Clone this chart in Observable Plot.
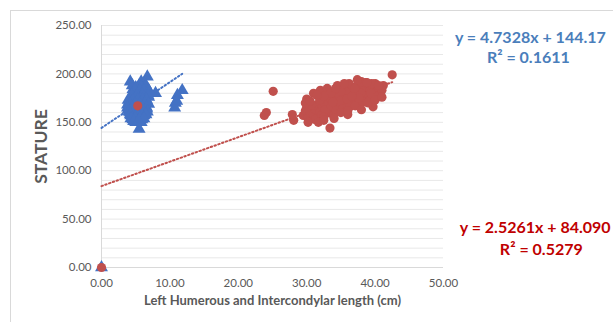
<!DOCTYPE html>
<html>
<head>
<meta charset="utf-8">
<script src="https://cdn.jsdelivr.net/npm/d3@7"></script>
<script src="https://cdn.jsdelivr.net/npm/@observablehq/plot@0.6"></script>
<style>
  body { margin: 0; background: #fff; }
  #wrap { position: relative; width: 613px; height: 322px; overflow: hidden; font-family: Lato, "Open Sans", sans-serif; }
  #frame { position: absolute; left: 10px; top: 10px; width: 700px; height: 400px; border-left: 1px solid #d9d9d9; border-top: 1px solid #d9d9d9; }
  #chart { position: absolute; left: 0; top: 0; }
</style>
</head>
<body>
<div id="wrap"><div id="frame"></div><div id="chart"></div></div>
<script>
// Series 1 (blue triangles)
const blueX = [6.7,4.2,5.8,6.2,6.5,5.5,4.5,4.6,5.2,6.0,6.8,5.5,6.3,7.9,4.8,5.9,6.6,4.3,5.0,5.7,6.4,6.9,4.1,4.7,5.4,6.1,6.7,5.0,3.8,4.4,5.1,5.8,6.5,3.9,4.6,5.3,6.0,6.6,4.2,5.6,4.3,4.9,5.5,6.2,4.6,5.2,5.9,5.0,5.8,4.8,6.4,5.5,
  5.0,5.8,6.4,4.9,5.6,6.2,6.9,4.4,5.2,6.0,6.8,3.9,4.6,5.3,6.0,6.6,4.2,4.9,5.6,6.3,6.9,3.8,4.5,5.2,5.9,6.6,4.0,4.7,5.4,6.1,6.7,4.2,5.2,5.9,6.5,4.3,5.0,5.6,6.2,4.7,5.4,
  11.8,11.1,10.8,10.7,11.0,0];
const blueY = [197,192,192,190,188,188,188,184,185,185,184,182,181,180,180,179,178,176,177,175,174,176,172,171,172,171,170,174,168,166,167,168,166,163,162,163,162,164,160,160,157,158,156,157,153,152,153,150,150,155,160,143,
  186,186,186,183,183,183,183,178,178,178,178,173,173,173,173,173,169,169,169,169,169,165,165,165,165,165,161,161,161,161,161,158,158,158,158,154,154,154,154,151,151,
  183,178,170,165,172,0];
// Series 2 (red circles)
const redX = [29.5,29.8,30.2,30.5,30.8,31.0,31.3,31.5,31.8,32.0,32.3,32.5,32.8,33.0,33.2,33.5,33.7,34.0,34.2,34.5,34.7,35.0,35.2,35.5,35.7,36.0,36.2,36.5,36.7,37.0,37.2,37.5,37.7,38.0,38.3,38.5,38.7,39.0,39.3,39.6,39.8,40.2,40.5,40.8,41.2,
  30.0,30.7,31.2,31.9,32.2,32.7,33.1,33.6,33.9,34.3,34.6,34.9,35.3,35.8,35.9,36.3,36.8,37.1,37.3,37.9,38.2,38.6,39.1,39.4,40.0,40.4,41.0,37.6,36.6,33.8,
  30.0,31.0,32.0,33.0,34.5,36.2,38.0,39.5,40.5,36.0,38.0,39.7,34.0,32.5,37.0,35.0,33.5,32.5,39.0,40.0,41.0,
  37.4,35.5,38.8,34.2,29.8,31.5,30.5,31.7,30.2,32.5,35.0,36.0,
  42.5,33.4,28.1,27.9,25.1,24.1,23.8,5.3,0];
const redY = [157,162,155,160,165,158,163,168,156,161,166,171,159,164,169,174,160,166,171,176,163,168,173,178,165,170,175,180,168,173,178,183,170,176,181,186,173,178,183,188,176,181,185,179,188,
  165,168,153,173,157,163,176,167,157,162,180,172,164,183,174,166,186,167,187,180,171,191,172,180,190,177,183,175,177,171,
  174,180,183,185,188,190,192,190,188,158,163,166,154,155,185,182,180,177,170,173,176,
  194,190,191,185,170,178,172,150,150,152,160,162,
  199,144,152,158,182,160,157,167,0];
// Excel linear trend lines
const blueFit = {slope: 4.7328, intercept: 144.17, xMax: 11.8};
const redFit = {slope: 2.5261, intercept: 84.09, xMax: 42.5};
const blueLabels = ["y = 4.7328x + 144.17", "R² = 0.1611"];
const redLabels = ["y = 2.5261x + 84.090", "R² = 0.5279"];
const yTicks = [0, 50, 100, 150, 200, 250];
const xTicks = [0, 10, 20, 30, 40, 50];

const blue = blueX.map((x, i) => ({x, y: blueY[i]}));
const red = redX.map((x, i) => ({x, y: redY[i]}));
const line = f => [0, f.xMax].map(x => ({x, y: f.slope * x + f.intercept}));

const blueCol = "#4472C4", redCol = "#C0504D";
const eqStyle = {fontSize: 16, fontWeight: "bold"};
const chart = Plot.plot({
  width: 613, height: 322,
  marginLeft: 101, marginRight: 170, marginTop: 25, marginBottom: 55,
  style: {fontFamily: "Lato, 'Open Sans', sans-serif", background: "transparent"},
  x: {domain: [0, 50]},
  y: {domain: [0, 250]},
  marks: [
    Plot.gridY(d3.range(0, 251, 10), {stroke: "#e8e8e8", strokeOpacity: 1}),
    Plot.ruleX([0], {stroke: "#d9d9d9"}),
    Plot.ruleY([0], {stroke: "#d9d9d9"}),
    Plot.axisY(yTicks, {tickSize: 0, tickPadding: 10, tickFormat: d => d.toFixed(2), fontSize: 11.5, fill: "#595959", label: null}),
    Plot.axisX(xTicks, {tickSize: 0, tickPadding: 11, tickFormat: d => d.toFixed(2), fontSize: 11.5, fill: "#595959", label: null}),
    Plot.text(["STATURE"], {frameAnchor: "left", textAnchor: "middle", dx: -60, rotate: -90, fontSize: 17.5, fontWeight: "bold", fill: "#595959"}),
    Plot.text(["Left Humerous and Intercondylar length (cm)"], {frameAnchor: "bottom", dy: 37, fontSize: 13, fontWeight: "bold", fill: "#595959"}),
    Plot.line(line(blueFit), {x: "x", y: "y", stroke: blueCol, strokeWidth: 2, strokeDasharray: "1.5,2.5"}),
    Plot.line(line(redFit), {x: "x", y: "y", stroke: redCol, strokeWidth: 2, strokeDasharray: "1.5,2.5"}),
    Plot.dot(blue, {x: "x", y: "y", symbol: "triangle", r: 4.8, fill: blueCol, stroke: null}),
    Plot.dot(red, {x: "x", y: "y", r: 4.6, fill: redCol, stroke: null}),
    Plot.text([blueLabels[0]], {x: 62.7, y: 237.5, ...eqStyle, fill: "#4A7EBB"}),
    Plot.text([blueLabels[1]], {x: 62.4, y: 217, ...eqStyle, fill: "#4A7EBB"}),
    Plot.text([redLabels[0]], {x: 63.4, y: 41.3, ...eqStyle, fill: "#C00000"}),
    Plot.text([redLabels[1]], {x: 64.3, y: 18.6, ...eqStyle, fill: "#C00000"})
  ]
});
document.getElementById("chart").appendChild(chart);
</script>
</body>
</html>
